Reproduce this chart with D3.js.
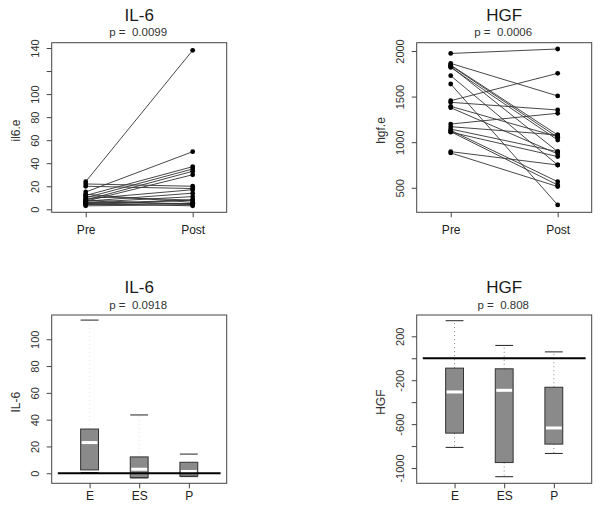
<!DOCTYPE html>
<html><head><meta charset="utf-8">
<script src="https://cdn.jsdelivr.net/npm/d3@7"></script>
<style>
body{margin:0;background:#fff;}
svg text{font-family:"Liberation Sans",Arial,sans-serif;fill:#1a1a1a;white-space:pre;}
</style>
</head><body>
<svg id="chart" width="600" height="508"></svg>
<script>
// ---------- data ----------
const pairCategories = ["Pre", "Post"];
const il6Pre  = [24, 22, 20, 15, 12, 10, 8, 7, 9, 7, 6, 5, 11, 6, 4, 8, 5, 13, 4, 3];
const il6Post = [138, 20, 18, 50, 37, 35, 33, 30, 17, 14, 11, 8, 8, 5, 5, 4, 3, 6, 8, 4];
const hgfPre  = [1973, 1864, 1846, 1840, 1830, 1820, 1729, 1638, 1455, 1437, 1393, 1378, 1199, 1170, 1144, 1130, 1115, 1110, 896, 882];
const hgfPost = [2022, 1507, 1079, 1053, 896, 1024, 750, 312, 1755, 1353, 1060, 871, 1317, 1079, 896, 567, 531, 842, 750, 513];
const il6PairTicks = [0, 20, 40, 60, 80, 100, 120, 140];
const il6PairTickLabels = ["0", "20", "40", "60", "80", "100", "", "140"];
const hgfPairTicks = [500, 1000, 1500, 2000];
const hgfPairTickLabels = ["500", "1000", "1500", "2000"];

const groups = ["E", "ES", "P"];
const il6Low  = [0.5, -3.5, -2.5];
const il6Q1   = [2.5, -3.2, -2.2];
const il6Med  = [22.9, 3.0, 1.3];
const il6Q3   = [33.0, 12.2, 8.2];
const il6High = [114.3, 43.5, 14.3];
const hgfLow  = [-812, -1079, -867];
const hgfQ1   = [-682, -950, -782];
const hgfMed  = [-307, -292, -635];
const hgfQ3   = [-90, -96, -264];
const hgfHigh = [342, 117, 58];
const il6BoxTicks = [0, 20, 40, 60, 80, 100];
const il6BoxTickLabels = ["0", "20", "40", "60", "80", "100"];
const hgfBoxTicks = [200, 0, -200, -400, -600, -800, -1000];
const hgfBoxTickLabels = ["200", "", "-200", "", "-600", "", "-1000"];

const titles = ["IL-6", "HGF", "IL-6", "HGF"];
const pTexts = ["p =  0.0099", "p =  0.0006", "p =  0.0918", "p =  0.808"];
const yLabels = ["il6.e", "hgf.e", "IL-6", "HGF"];

// ---------- layout ----------
const svg = d3.select("#chart");
const frames = [
  {x0: 51.7, x1: 226.7, y0: 42.7, y1: 212.3},
  {x0: 416.7, x1: 591.7, y0: 42.7, y1: 212.3},
  {x0: 51.7, x1: 226.7, y0: 315, y1: 483.3},
  {x0: 416.7, x1: 591.7, y0: 315, y1: 483.3}
];
const frameColor = "#444";
const ink = "#222";

function frameAndText(i, xLabelOffset) {
  const f = frames[i];
  const g = svg.append("g");
  const cx = (f.x0 + f.x1) / 2;
  g.append("text").attr("x", cx).attr("y", f.y0 - 22).attr("text-anchor", "middle")
    .style("font-size", "17px").text(titles[i]);
  g.append("text").attr("x", cx - 1).attr("y", f.y0 - 6.5).attr("text-anchor", "middle")
    .style("font-size", "11.5px").style("fill", "#333").text(pTexts[i]);
  g.append("text").attr("transform", `translate(${f.x0 - 32},${(f.y0 + f.y1) / 2 + 3}) rotate(-90)`)
    .attr("text-anchor", "middle").style("font-size", "12px").style("fill", "#333").text(yLabels[i]);
  g.append("rect").attr("x", f.x0).attr("y", f.y0).attr("width", f.x1 - f.x0).attr("height", f.y1 - f.y0)
    .attr("fill", "none").attr("stroke", frameColor).attr("stroke-width", 1);
  return g;
}

function yAxis(i, y, ticks, labels) {
  const f = frames[i];
  const ax = svg.append("g").attr("transform", `translate(${f.x0},0)`)
    .call(d3.axisLeft(y).tickValues(ticks).tickSize(5).tickFormat((d, k) => labels[k]));
  ax.select(".domain").remove();
  ax.selectAll("line").attr("stroke", frameColor);
  ax.selectAll("text").attr("x", 0).attr("y", -12.5).attr("dy", 0)
    .attr("transform", "rotate(-90)").attr("text-anchor", "middle")
    .style("font-size", "11px").style("font-family", "'Liberation Sans',Arial,sans-serif").style("fill", "#333");
}

function xAxis(i, x, vals, labels, labelY, fs) {
  const f = frames[i];
  const ax = svg.append("g").attr("transform", `translate(0,${f.y1})`)
    .call(d3.axisBottom(x).tickValues(vals).tickSize(5).tickFormat((d, k) => labels[k]));
  ax.select(".domain").remove();
  ax.selectAll("line").attr("stroke", frameColor);
  ax.selectAll("text").attr("y", labelY).attr("dy", 0)
    .style("font-size", fs).style("font-family", "'Liberation Sans',Arial,sans-serif").style("fill", "#222");
}

// ---------- paired panels ----------
function pairedPanel(i, pre, post, domain, ticks, tickLabels) {
  const f = frames[i];
  frameAndText(i);
  const x = d3.scaleLinear().domain([1 - 0.318, 2 + 0.318]).range([f.x0, f.x1]);
  const y = d3.scaleLinear().domain(domain).range([f.y1, f.y0]);
  yAxis(i, y, ticks, tickLabels);
  xAxis(i, x, [1, 2], pairCategories, 22, "12px");
  const g = svg.append("g");
  const pairs = pre.map((v, k) => ({a: v, b: post[k]}));
  g.selectAll("line.pair").data(pairs).join("line")
    .attr("x1", x(1)).attr("x2", x(2))
    .attr("y1", d => y(d.a)).attr("y2", d => y(d.b))
    .attr("stroke", "#333").attr("stroke-width", 0.9);
  g.selectAll("circle.pre").data(pre).join("circle")
    .attr("cx", x(1)).attr("cy", d => y(d)).attr("r", 2.4).attr("fill", "#000");
  g.selectAll("circle.post").data(post).join("circle")
    .attr("cx", x(2)).attr("cy", d => y(d)).attr("r", 2.4).attr("fill", "#000");
}

pairedPanel(0, il6Pre, il6Post, [-2.6, 144.6], il6PairTicks, il6PairTickLabels);
pairedPanel(1, hgfPre, hgfPost, [231, 2091], hgfPairTicks, hgfPairTickLabels);

// ---------- box panels ----------
function boxPanel(i, low, q1, med, q3, high, domain, ticks, tickLabels, whiskerColor) {
  const f = frames[i];
  frameAndText(i);
  const x = d3.scaleLinear().domain([0.237, 3.763]).range([f.x0, f.x1]);
  const y = d3.scaleLinear().domain(domain).range([f.y1, f.y0]);
  yAxis(i, y, ticks, tickLabels);
  xAxis(i, x, [1, 2, 3], groups, 17, "12px");
  const hw = 0.18;
  const data = groups.map((gname, k) => ({k: k + 1, low: low[k], q1: q1[k], med: med[k], q3: q3[k], high: high[k]}));
  const g = svg.append("g");
  // whiskers
  g.selectAll("line.wu").data(data).join("line")
    .attr("x1", d => x(d.k)).attr("x2", d => x(d.k))
    .attr("y1", d => y(d.q3)).attr("y2", d => y(d.high))
    .attr("stroke", whiskerColor).attr("stroke-width", 1).attr("stroke-dasharray", "1,3");
  g.selectAll("line.wl").data(data).join("line")
    .attr("x1", d => x(d.k)).attr("x2", d => x(d.k))
    .attr("y1", d => y(d.q1)).attr("y2", d => y(d.low))
    .attr("stroke", whiskerColor).attr("stroke-width", 1).attr("stroke-dasharray", "1,3");
  // caps
  ["high", "low"].forEach(key => {
    g.selectAll("line.cap" + key).data(data).join("line")
      .attr("x1", d => x(d.k - hw)).attr("x2", d => x(d.k + hw))
      .attr("y1", d => y(d[key])).attr("y2", d => y(d[key]))
      .attr("stroke", "#222").attr("stroke-width", 1);
  });
  // boxes
  g.selectAll("rect.box").data(data).join("rect")
    .attr("x", d => x(d.k - hw)).attr("width", d => x(d.k + hw) - x(d.k - hw))
    .attr("y", d => y(d.q3)).attr("height", d => y(d.q1) - y(d.q3))
    .attr("fill", "#8a8a8a").attr("stroke", "#333").attr("stroke-width", 1);
  g.selectAll("line.med").data(data).join("line")
    .attr("x1", d => x(d.k - hw) + 1).attr("x2", d => x(d.k + hw) - 1)
    .attr("y1", d => y(d.med)).attr("y2", d => y(d.med))
    .attr("stroke", "#fff").attr("stroke-width", 3);
  // zero reference line
  g.append("line").attr("x1", x(0.36)).attr("x2", x(3.64)).attr("y1", y(0)).attr("y2", y(0))
    .attr("stroke", "#000").attr("stroke-width", 2);
}

boxPanel(2, il6Low, il6Q1, il6Med, il6Q3, il6High, [-7.5, 118.1], il6BoxTicks, il6BoxTickLabels, "#e6e6e6");
boxPanel(3, hgfLow, hgfQ1, hgfMed, hgfQ3, hgfHigh, [-1139, 394], hgfBoxTicks, hgfBoxTickLabels, "#888");
</script>
</body></html>
